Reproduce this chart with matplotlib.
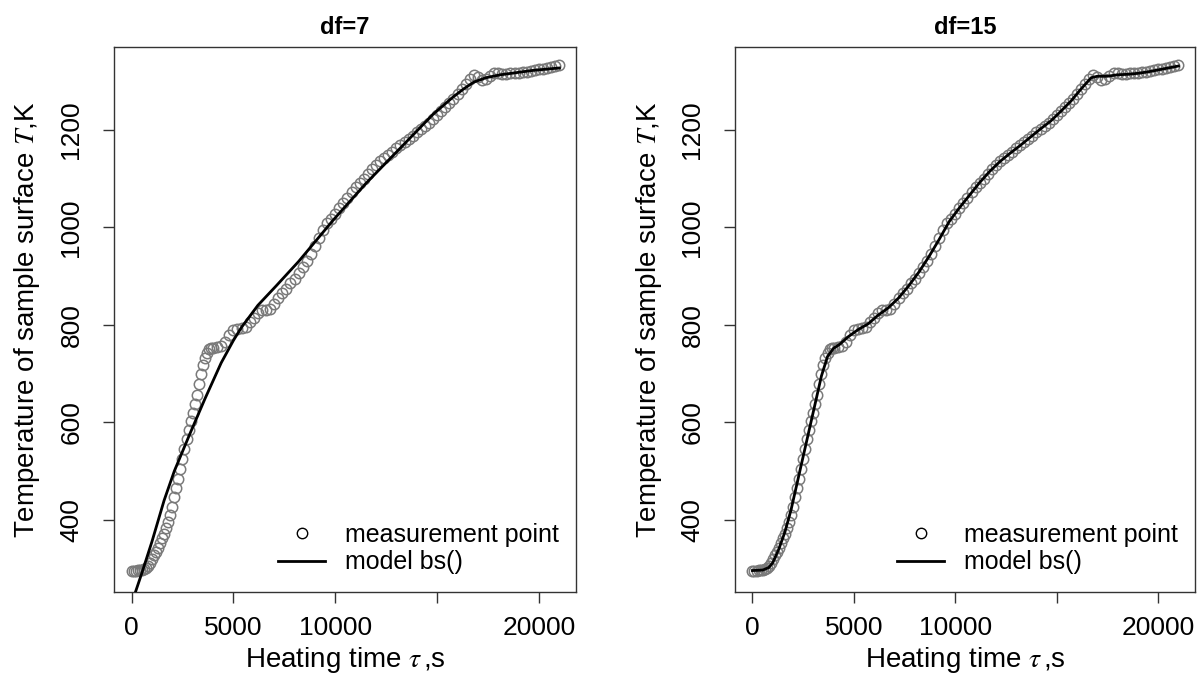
"""Surface temperature vs heating time with B-spline model fits (df=7, df=15)."""

import matplotlib

matplotlib.use("Agg")
import matplotlib.pyplot as plt
from matplotlib.lines import Line2D

TIME_S = [
    0, 100, 200, 300, 400, 500, 600, 700, 800, 900, 1000,
    1100, 1200, 1300, 1400, 1500, 1600, 1700, 1800, 1900, 2000,
    2100, 2200, 2300, 2400, 2500, 2600, 2700, 2800, 2900, 3000,
    3100, 3200, 3300, 3400, 3500, 3600, 3700, 3800, 3900, 4000,
    4200, 4400, 4600, 4800, 5000, 5200, 5400, 5600, 5800, 6000,
    6200, 6400, 6600, 6800, 7000, 7200, 7400, 7600, 7800, 8000,
    8200, 8400, 8600, 8800, 9000, 9200, 9400, 9600, 9800, 10000,
    10200, 10400, 10600, 10800, 11000, 11200, 11400, 11600, 11800, 12000,
    12200, 12400, 12600, 12800, 13000, 13200, 13400, 13600, 13800, 14000,
    14200, 14400, 14600, 14800, 15000, 15200, 15400, 15600, 15800, 16000,
    16200, 16400, 16600, 16800, 17000, 17200, 17400, 17600, 17800, 18000,
    18200, 18400, 18600, 18800, 19000, 19200, 19400, 19600, 19800, 20000,
    20200, 20400, 20600, 20800, 21000,
]
TEMP_K = [
    296, 296, 296, 297, 297, 298, 299, 302, 306, 312, 320,
    328, 335, 343, 352, 362, 372, 383, 396, 410, 427,
    446, 465, 484, 504, 524, 545, 565, 584, 602, 620,
    637, 656, 678, 700, 718, 733, 743, 750, 752, 753,
    755, 757, 765, 780, 790, 792, 793, 796, 805, 815,
    825, 830, 831, 833, 843, 856, 865, 874, 885, 895,
    906, 918, 932, 945, 962, 978, 995, 1008, 1018, 1028,
    1040, 1050, 1060, 1072, 1083, 1092, 1100, 1110, 1120, 1128,
    1136, 1142, 1148, 1155, 1162, 1168, 1175, 1182, 1188, 1195,
    1202, 1208, 1215, 1222, 1230, 1238, 1246, 1255, 1263, 1273,
    1284, 1295, 1305, 1313, 1308, 1303, 1304, 1310, 1316, 1316,
    1315, 1314, 1316, 1317, 1317, 1318, 1319, 1321, 1323, 1324,
    1325, 1327, 1329, 1332, 1333,
]

# --- fitted bs() model curves ---
MODEL7_T = [0, 500, 1000, 1600, 2100, 2900, 3600, 4400, 5000, 5400, 6200,
            7100, 8200, 9900, 11500, 13200, 14800, 15800, 16300, 16800,
            17400, 18100, 19700, 21000]
MODEL7_K = [228, 290, 355, 440, 500, 580, 648, 722, 768, 795, 840,
            880, 930, 1015, 1090, 1163, 1232, 1268, 1284, 1298,
            1307, 1313, 1322, 1327]

MODEL15_T = [0, 500, 800, 1000, 1300, 1600, 1900, 2200, 2500, 2800, 3100,
             3400, 3700, 4000, 4300, 4700, 5200, 5700, 6200, 6700, 7200,
             7700, 8200, 8700, 9200, 9700, 10200, 10700, 11200, 11700,
             12200, 12700, 13200, 13700, 14200, 14700, 15200, 15700, 16200,
             16700, 17000, 17500, 18000, 18500, 19000, 19500, 20000, 20500,
             21000]
MODEL15_K = [296, 297, 302, 312, 340, 375, 420, 475, 530, 585, 640,
             695, 735, 752, 760, 775, 790, 802, 820, 835, 855,
             880, 908, 940, 975, 1012, 1040, 1066, 1092, 1115,
             1135, 1152, 1168, 1185, 1202, 1218, 1238, 1259, 1284,
             1307, 1310, 1310, 1313, 1314, 1316, 1319, 1323, 1327,
             1331]

PANELS = [("df=7", MODEL7_T, MODEL7_K), ("df=15", MODEL15_T, MODEL15_K)]

X_TICKS = [0, 5000, 10000, 15000, 20000]
X_TICKLABELS = ["0", "5000", "10000", "", "20000"]
Y_TICKS = [400, 600, 800, 1000, 1200]

# --- style ---
POINT_GREY = "#7a7a7a"
FRAME = "#333333"

plt.rcParams.update({
    "font.family": ["Liberation Sans", "DejaVu Sans"],
    "mathtext.fontset": "stix",
    "text.color": "black",
})

fig = plt.figure(figsize=(12, 6.75), dpi=100)
W, H = 1200, 675
axes = [
    fig.add_axes([114 / W, 1 - 592 / H, 462 / W, 545 / H]),
    fig.add_axes([735 / W, 1 - 592 / H, 460 / W, 545 / H]),
]

for ax, (title, mt, mk) in zip(axes, PANELS):
    ax.plot(TIME_S, TEMP_K, ls="none", marker="o", ms=7.5, mfc="none",
            mec=POINT_GREY, mew=1.1, zorder=2)
    ax.plot(mt, mk, color="black", lw=2.0, zorder=3)

    ax.set_xlim(-860, 21815)
    ax.set_ylim(252, 1370)
    ax.set_xticks(X_TICKS)
    ax.set_xticklabels(X_TICKLABELS)
    ax.set_yticks(Y_TICKS)
    ax.set_yticklabels([str(v) for v in Y_TICKS], rotation=90, va="center")
    ax.tick_params(direction="out", length=8, width=1, color=FRAME, labelsize=19)
    ax.tick_params(axis="x", pad=9)
    ax.tick_params(axis="y", pad=14)
    for s in ax.spines.values():
        s.set_color(FRAME)
        s.set_linewidth(1.0)

    ax.set_title(title, fontsize=17, fontweight="bold", pad=9)
    ax.set_xlabel(r"Heating time $\tau\,$,s", fontsize=20)
    ax.xaxis.set_label_coords(0.5, -0.097)
    ax.set_ylabel(r"Temperature of sample surface $T$,K", fontsize=20)
    ax.yaxis.set_label_coords(-0.155, 0.5)

    handles = [
        Line2D([], [], ls="none", marker="o", ms=7.5, mfc="none", mec="black", mew=1.0),
        Line2D([], [], color="black", lw=2.0),
    ]
    ax.legend(handles, ["measurement point", "model bs()"], loc="lower right",
              frameon=False, fontsize=18, handlelength=1.85, handletextpad=0.8,
              labelspacing=0.15, borderaxespad=0.3)

fig.savefig("out.png", dpi=100, facecolor="white")
